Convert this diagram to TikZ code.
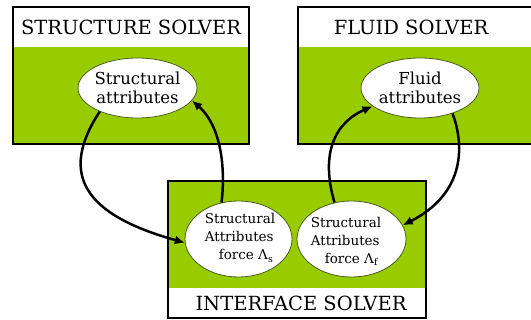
\documentclass[tikz,border=0pt]{standalone}
\usepackage{fontspec}
\newfontfamily\serifx{DejaVu Serif}
\usetikzlibrary{shapes.geometric,arrows.meta}
\definecolor{lime}{HTML}{99CC00}
\definecolor{ellborder}{HTML}{4A5E1A}
\begin{document}
\begin{tikzpicture}[x=1pt,y=-1pt,
 solverbox/.style={draw=black,line width=1.7pt},
 header/.style={font=\serifx\fontsize{19.5}{22}\selectfont,inner sep=0pt},
 attr/.style={ellipse,draw=ellborder,line width=0.8pt,fill=white,inner sep=0pt},
 bigtext/.style={font=\serifx\fontsize{16.5}{19}\selectfont,align=center,inner sep=0pt},
 smalltext/.style={font=\serifx\fontsize{13.5}{18}\selectfont,align=left,inner sep=0pt},
 flow/.style={line width=2.5pt,-{Latex[length=10pt,width=9pt]}}
]
\useasboundingbox (0,0) rectangle (531,320);
% structure solver
\fill[lime] (13,47) rectangle (249,144);
\draw[solverbox] (13,7) rectangle (249,144);
\node[header] (ssh) at (131,27) {STRUCTURE SOLVER};
% fluid solver
\fill[lime] (298,47) rectangle (535,144);
\draw[solverbox] (535,7) -- (298,7) -- (298,144) -- (535,144);
\node[header] (fsh) at (411,27) {FLUID SOLVER};
% interface solver
\fill[lime] (168,181) rectangle (426,288);
\draw[solverbox] (168,181) rectangle (426,318);
\node[header] (ish) at (301,303) {INTERFACE SOLVER};
% ellipses
\node[attr,minimum width=119pt,minimum height=60pt] (sa) at (137.5,88) {};
\node[attr,minimum width=118pt,minimum height=60pt] (fa) at (420,88) {};
\node[attr,minimum width=107pt,minimum height=76pt] (li) at (238.5,239) {};
\node[attr,minimum width=109pt,minimum height=76pt] (ri) at (351.5,239) {};
% texts
\node[bigtext] (sat) at (137.5,88) {Structural\\attributes};
\node[bigtext] (fat) at (420,88) {Fluid\\attributes};
\node[smalltext] (lt) at (240,238) {Structural\\Attributes\\\hspace{14pt}force Λ\textsubscript{s}};
\node[smalltext] (rt) at (346,241) {Structural\\Attributes\\\hspace{14pt}force Λ\textsubscript{f}};
% connectors
\draw[flow] (sa.212) .. controls (58,175) and (85,215) .. (li.184);
\draw[flow] (li.115) .. controls (226,165) and (220,125) .. (sa.-13);
\draw[flow] (ri.115) .. controls (322,160) and (330,125) .. (fa.201);
\draw[flow] (fa.-38) .. controls (466,150) and (462,195) .. (ri.15);
\end{tikzpicture}
\end{document}
